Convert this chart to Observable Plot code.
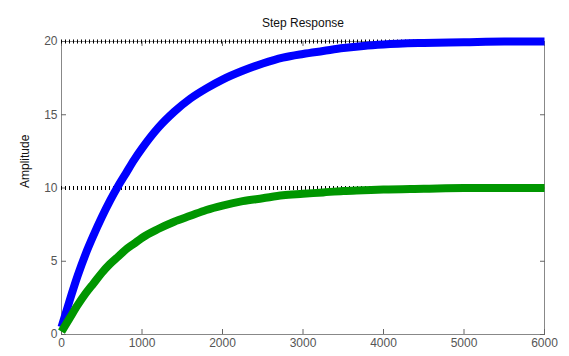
<!DOCTYPE html>
<html><head><meta charset="utf-8">
<script src="https://cdn.jsdelivr.net/npm/d3@7"></script>
<script src="https://cdn.jsdelivr.net/npm/@observablehq/plot@0.6"></script>
<style>body{margin:0;background:#fff}</style>
</head><body><div id="chart"></div>
<script>
const title = "Step Response";
const yLabel = "Amplitude";
const time = [0,100,200,300,400,500,600,700,800,900,1000,1200,1400,1600,1800,2000,2250,2500,2750,3000,3250,3500,3750,4000,4500,5000,5500,6000];
const blueVals = [0.5,2.3,4.0,5.5,6.8,8.0,9.1,10.1,11.0,11.9,12.7,14.1,15.2,16.1,16.8,17.4,18.0,18.5,18.9,19.15,19.35,19.55,19.7,19.8,19.9,19.95,20.0,20.0];
const greenVals = [0.2,1.1,2.0,2.8,3.5,4.2,4.8,5.3,5.8,6.2,6.6,7.2,7.7,8.1,8.5,8.8,9.1,9.3,9.5,9.6,9.7,9.8,9.85,9.9,9.95,10.0,10.0,10.0];
const steadyStates = [20, 10];
const xTicks = [0,1000,2000,3000,4000,5000,6000];
const yTicks = [0,5,10,15,20];

const blue = time.map((t,i)=>({t, v: blueVals[i]}));
const green = time.map((t,i)=>({t, v: greenVals[i]}));

const plot = Plot.plot({
  width: 569, height: 356,
  marginLeft: 61, marginRight: 25, marginTop: 41, marginBottom: 22,
  style: {fontFamily: "Liberation Sans, Arial, sans-serif", fontSize: "12px", color: "#555"},
  x: {domain: [0, 6000]},
  y: {domain: [0, 20]},
  marks: [
    Plot.frame({stroke: "#888"}),
    Plot.axisX(xTicks, {tickSize: -5, tickPadding: 9, stroke: "#666", label: null, fontSize: 12, tickFormat: d3.format("d")}),
    Plot.axisX(xTicks, {anchor: "top", tickSize: -4, stroke: "#666", text: null, label: null}),
    Plot.axisY(yTicks, {tickSize: -5, tickPadding: 9, stroke: "#666", label: null, fontSize: 12, tickFormat: d3.format("d")}),
    Plot.axisY(yTicks, {anchor: "right", tickSize: -5, stroke: "#666", text: null, label: null}),
    Plot.ruleY(steadyStates, {stroke: "#000", strokeWidth: 4, strokeDasharray: "1,3"}),
    Plot.line(blue, {x: "t", y: "v", stroke: "#0000ff", strokeWidth: 8, strokeLinecap: "butt", curve: "monotone-x"}),
    Plot.line(green, {x: "t", y: "v", stroke: "#009600", strokeWidth: 8, strokeLinecap: "butt", curve: "monotone-x"}),
    Plot.text([title], {frameAnchor: "top", dy: -23, fontSize: 12, fill: "#111"}),
    Plot.text([yLabel], {frameAnchor: "left", dx: -36, rotate: -90, fontSize: 12, fill: "#111"})
  ]
});
document.getElementById("chart").append(plot);
</script></body></html>
